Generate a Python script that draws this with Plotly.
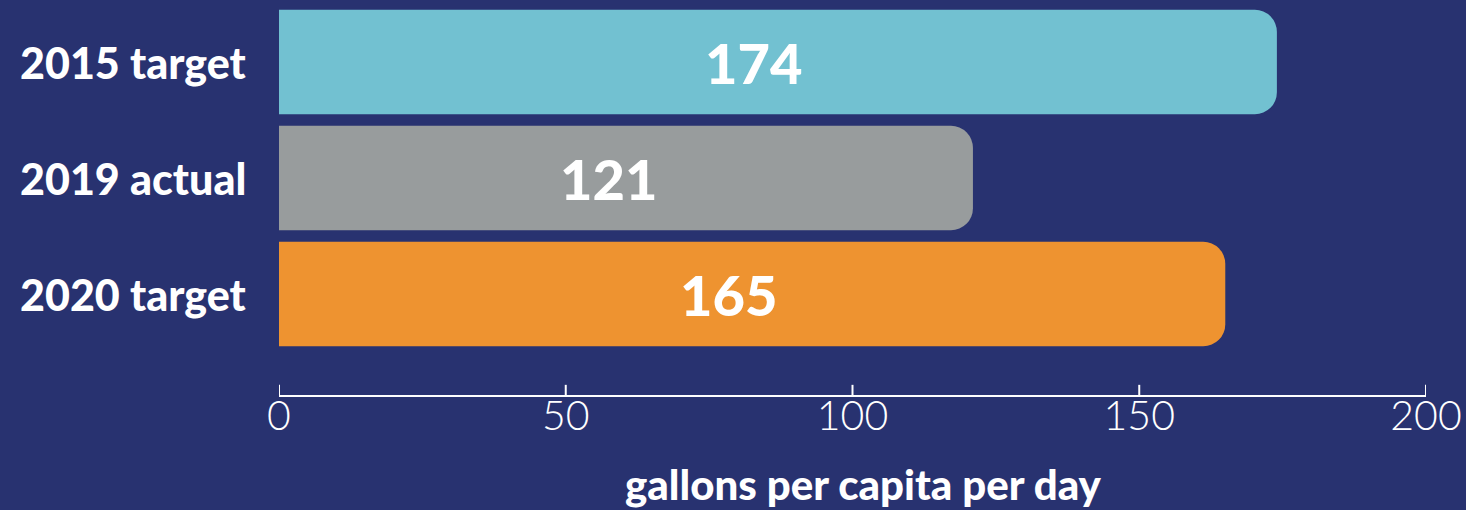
import plotly.graph_objects as go

categories = ["2015 target", "2019 actual", "2020 target"]
values = [174, 121, 165]
colors = ["#72C1D1", "#989C9D", "#EE9330"]
tick_vals = [0, 50, 100, 150, 200]
x_title = "gallons per capita per day"

BG = "#283270"

fig = go.Figure()
fig.add_trace(go.Bar(
    y=categories, x=values, orientation="h",
    marker=dict(color=colors, line=dict(width=0)),
    hoverinfo="skip",
))

annotations = []
for c, v in zip(categories, values):
    annotations.append(dict(
        x=v * 0.475, y=c, xref="x", yref="y", text=str(v), showarrow=False,
        font=dict(family="Lato", size=56, color="white", weight=900),
        xanchor="center", yanchor="middle",
    ))
    annotations.append(dict(
        x=-0.2278, y=c, xref="paper", yref="y", text=c, showarrow=False,
        font=dict(family="Lato", size=43, color="white", weight=900),
        xanchor="left", yanchor="middle",
    ))
annotations.append(dict(
    x=0.5094, y=-0.228, xref="paper", yref="paper", text=x_title, showarrow=False,
    font=dict(family="Lato", size=42, color="white", weight=900),
    xanchor="center", yanchor="middle",
))

shapes = [dict(type="line", xref="x", yref="paper", x0=t, x1=t, y0=0, y1=0.026,
               line=dict(color="white", width=2)) for t in tick_vals]

fig.update_layout(
    width=1466, height=510,
    paper_bgcolor=BG, plot_bgcolor=BG,
    margin=dict(l=279, r=37, t=4, b=115),
    bargap=0.1,
    barcornerradius=22,
    showlegend=False,
    annotations=annotations,
    shapes=shapes,
    xaxis=dict(
        range=[0, 200], tickvals=tick_vals, showgrid=False, zeroline=False,
        showline=True, linecolor="white", linewidth=2,
        ticks="", ticklabelstandoff=-16,
        tickfont=dict(family="Lato", size=41, color="white", weight=300),
        fixedrange=True,
    ),
    yaxis=dict(
        categoryorder="array", categoryarray=categories,
        range=[2.87, -0.5], showticklabels=False, showgrid=False,
        zeroline=False, showline=False, ticks="", fixedrange=True,
    ),
)

fig.write_html(
    "out.html",
    config={"displayModeBar": False},
    post_script="document.body.style.margin='0';document.body.style.background='#283270';",
)
